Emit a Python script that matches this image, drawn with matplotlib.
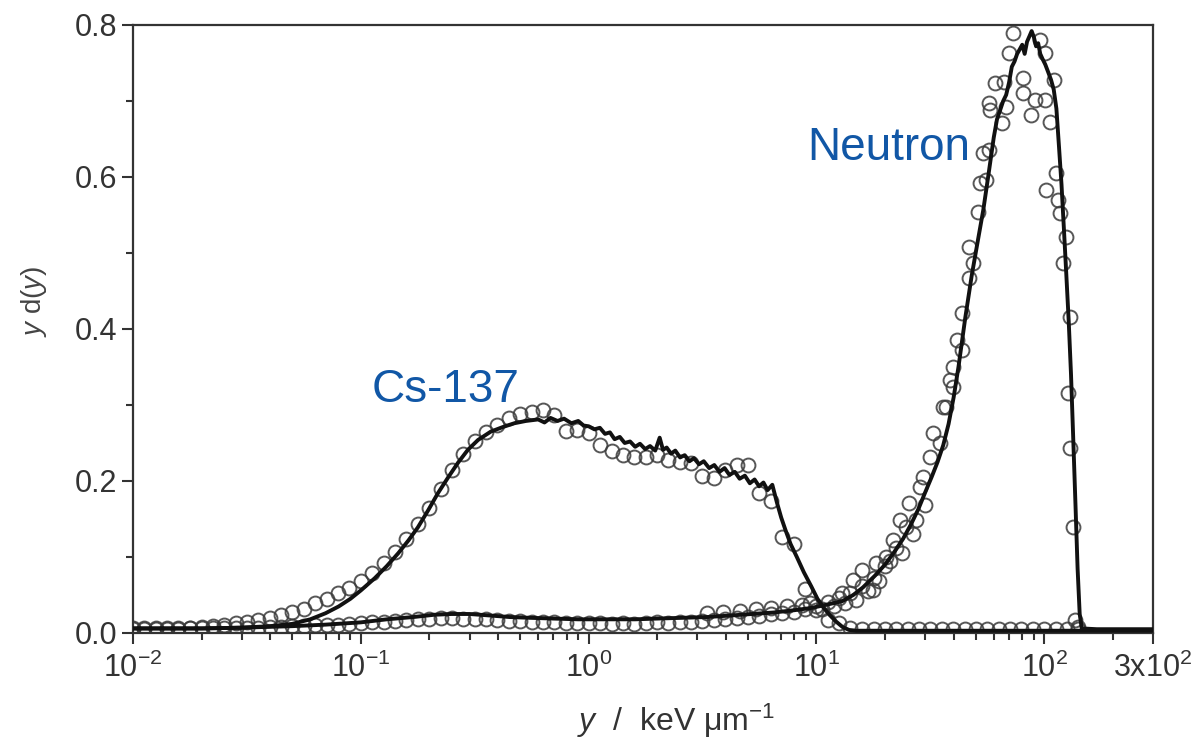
import matplotlib
matplotlib.use("Agg")
import matplotlib.pyplot as plt
import matplotlib.ticker as mticker

plt.rcParams["font.family"] = ["Liberation Sans", "DejaVu Sans"]
plt.rcParams["mathtext.fontset"] = "custom"
plt.rcParams["mathtext.rm"] = "Liberation Sans"
plt.rcParams["mathtext.it"] = "Liberation Sans:italic"
plt.rcParams["mathtext.default"] = "regular"

# ── Data ─────────────────────────────────────────────────────────────────────
# Cs-137: measured spectrum (solid line)
cs_line_x = [0.01, 0.02, 0.03, 0.04, 0.05, 0.06, 0.07, 0.08, 0.09, 0.10,
             0.115, 0.13, 0.146, 0.162, 0.178, 0.198, 0.218, 0.242, 0.267, 0.295,
             0.327, 0.372, 0.42, 0.472, 0.53, 0.6, 0.64, 0.68, 0.73, 0.78,
             0.84, 0.9, 0.95, 1.0, 1.06, 1.12, 1.18, 1.24, 1.3, 1.37,
             1.44, 1.52, 1.6, 1.68, 1.77, 1.86, 1.96, 2.05, 2.12, 2.2,
             2.3, 2.4, 2.52, 2.64, 2.77, 2.9, 3.05, 3.2, 3.38, 3.56,
             3.75, 3.95, 4.15, 4.38, 4.6, 4.85, 5.1, 5.35, 5.6, 5.85,
             6.1, 6.4, 6.7, 7.0, 7.3, 7.7, 8.2, 8.8, 9.5, 10.1,
             10.7, 11.4, 12.2, 13.0, 13.9, 15.0, 30.0, 100.0, 300.0]
cs_line_y = [0.006, 0.006, 0.007, 0.009, 0.012, 0.018, 0.026, 0.035, 0.045, 0.056,
             0.072, 0.088, 0.105, 0.122, 0.139, 0.162, 0.184, 0.205, 0.224, 0.241,
             0.254, 0.265, 0.271, 0.276, 0.279, 0.281, 0.277, 0.283, 0.279, 0.282,
             0.276, 0.279, 0.273, 0.272, 0.268, 0.270, 0.262, 0.264, 0.255, 0.258,
             0.250, 0.252, 0.245, 0.249, 0.242, 0.246, 0.240, 0.257, 0.241, 0.244,
             0.236, 0.240, 0.231, 0.234, 0.226, 0.230, 0.222, 0.226, 0.217, 0.221,
             0.212, 0.217, 0.208, 0.212, 0.203, 0.207, 0.197, 0.202, 0.193, 0.198,
             0.188, 0.195, 0.172, 0.152, 0.136, 0.117, 0.100, 0.080, 0.061, 0.045,
             0.034, 0.024, 0.015, 0.008, 0.004, 0.003, 0.003, 0.003, 0.003]

# Cs-137: calculated spectrum (open circles)
cs_pts_x = [0.0100, 0.0112, 0.0126, 0.0141, 0.0158, 0.0178, 0.0200, 0.0224, 0.0251, 0.0282,
            0.0316, 0.0355, 0.0398, 0.0447, 0.0501, 0.0562, 0.0631, 0.0708, 0.0794, 0.0891,
            0.100, 0.112, 0.126, 0.141, 0.158, 0.178, 0.200, 0.224, 0.251, 0.282,
            0.316, 0.355, 0.398, 0.447, 0.501, 0.562, 0.631, 0.708, 0.794, 0.891,
            1.00, 1.12, 1.26, 1.41, 1.58, 1.78, 2.00, 2.24, 2.51, 2.82,
            3.16, 3.55, 3.98, 4.47, 5.01, 5.62, 6.31, 7.08, 7.94, 8.91,
            10.0, 11.2, 12.6, 14.1, 15.8, 17.8, 20.0, 22.4, 25.1, 28.2,
            31.6, 35.5, 39.8, 44.7, 50.1, 56.2, 63.1, 70.8, 79.4, 89.1,
            100.0, 112.0, 126.0, 141.0]
cs_pts_y = [0.006, 0.006, 0.006, 0.006, 0.006, 0.007, 0.008, 0.009, 0.011, 0.013,
            0.015, 0.017, 0.020, 0.024, 0.028, 0.032, 0.039, 0.045, 0.052, 0.059,
            0.068, 0.079, 0.092, 0.107, 0.124, 0.143, 0.165, 0.190, 0.215, 0.236,
            0.252, 0.265, 0.274, 0.283, 0.288, 0.291, 0.293, 0.287, 0.266, 0.267,
            0.263, 0.247, 0.240, 0.234, 0.232, 0.232, 0.234, 0.228, 0.225, 0.224,
            0.206, 0.204, 0.214, 0.221, 0.221, 0.184, 0.174, 0.126, 0.117, 0.058,
            0.030, 0.017, 0.013, 0.006, 0.005, 0.005, 0.005, 0.005, 0.005, 0.005,
            0.005, 0.005, 0.005, 0.005, 0.005, 0.005, 0.005, 0.005, 0.005, 0.005,
            0.005, 0.005, 0.005, 0.005]

# Neutron: measured spectrum (solid line)
nt_line_x = [0.01, 0.02, 0.03, 0.05, 0.07, 0.1, 0.13, 0.17, 0.21, 0.25,
             0.3, 0.37, 0.45, 0.55, 0.7, 0.9, 1.2, 1.6, 2.0, 2.6,
             3.3, 4.2, 5.2, 6.5, 8.0, 9.5, 11.0, 13.0, 14.5, 16.0,
             18.0, 20.0, 22.0, 24.0, 26.0, 28.0, 30.0, 32.0, 34.0, 36.0,
             38.0, 40.0, 42.0, 45.0, 48.0, 51.0, 54.0, 57.0, 60.0, 62.0,
             64.0, 66.0, 68.0, 70.0, 72.0, 74.0, 76.0, 78.0, 80.0, 82.0,
             84.0, 86.0, 88.0, 90.0, 92.0, 94.0, 96.0, 98.0, 101.0, 104.0,
             107.0, 110.0, 113.0, 116.0, 119.0, 122.0, 125.0, 128.0, 131.0, 134.0,
             137.0, 140.0, 143.0, 146.0, 170.0, 220.0, 300.0]
nt_line_y = [0.006, 0.006, 0.007, 0.009, 0.011, 0.014, 0.018, 0.021, 0.024, 0.025,
             0.025, 0.023, 0.021, 0.020, 0.019, 0.018, 0.018, 0.018, 0.019, 0.020,
             0.021, 0.023, 0.025, 0.027, 0.030, 0.033, 0.037, 0.042, 0.050, 0.060,
             0.075, 0.090, 0.107, 0.124, 0.143, 0.163, 0.185, 0.205, 0.225, 0.247,
             0.275, 0.310, 0.350, 0.415, 0.470, 0.515, 0.557, 0.605, 0.652, 0.676,
             0.688, 0.700, 0.708, 0.724, 0.745, 0.752, 0.762, 0.768, 0.774, 0.762,
             0.778, 0.785, 0.792, 0.784, 0.772, 0.776, 0.762, 0.756, 0.748, 0.738,
             0.728, 0.715, 0.690, 0.640, 0.590, 0.530, 0.470, 0.410, 0.340, 0.255,
             0.170, 0.085, 0.025, 0.006, 0.005, 0.005, 0.005]

# Neutron: calculated spectrum (open circles)
nt_pts_x = [0.0100, 0.0112, 0.0126, 0.0141, 0.0158, 0.0178, 0.0200, 0.0224, 0.0251, 0.0282,
            0.0316, 0.0355, 0.0398, 0.0447, 0.0501, 0.0562, 0.0631, 0.0708, 0.0794, 0.0891,
            0.100, 0.112, 0.126, 0.141, 0.158, 0.178, 0.200, 0.224, 0.251, 0.282,
            0.316, 0.355, 0.398, 0.447, 0.501, 0.562, 0.631, 0.708, 0.794, 0.891,
            1.00, 1.12, 1.26, 1.41, 1.58, 1.78, 2.00, 2.24, 2.51, 2.82,
            3.16, 3.55, 3.98, 4.47, 5.01, 5.62, 6.31, 7.08, 7.94, 8.91,
            3.3, 3.9, 4.6, 5.4, 6.3, 7.4, 8.6, 9.4,
            10.0, 10.6, 11.2, 11.9, 12.6, 13.0, 13.3, 14.1, 14.4, 14.9,
            15.8, 15.9, 16.8, 17.7, 17.8, 18.2, 18.8, 19.9, 20.1, 21.1,
            21.6, 22.4, 23.2, 23.7, 24.7, 25.6, 26.6, 27.4, 28.4, 29.3,
            29.8, 31.4, 32.4, 34.9, 35.9, 37.0, 38.5, 39.7, 39.7, 41.5,
            43.5, 43.5, 46.5, 46.5, 48.5, 51.0, 52.0, 54.0, 55.6, 57.0,
            57.0, 58.0, 61.0, 65.0, 66.5, 68.0, 70.0, 73.0, 81.0, 81.0,
            87.0, 91.0, 95.5, 101.0, 101.0, 102.0, 106.0, 110.0, 113.0, 115.0,
            117.0, 121.0, 124.0, 127.0, 130.0, 130.0, 134.0, 136.0, 140.0]
nt_pts_y = [0.005, 0.005, 0.005, 0.005, 0.005, 0.006, 0.006, 0.006, 0.006, 0.007,
            0.007, 0.007, 0.008, 0.008, 0.009, 0.009, 0.010, 0.010, 0.011, 0.012,
            0.013, 0.014, 0.015, 0.016, 0.017, 0.018, 0.019, 0.020, 0.020, 0.019,
            0.019, 0.018, 0.017, 0.016, 0.016, 0.015, 0.014, 0.014, 0.013, 0.013,
            0.013, 0.013, 0.012, 0.013, 0.012, 0.013, 0.014, 0.013, 0.015, 0.014,
            0.016, 0.017, 0.018, 0.020, 0.021, 0.023, 0.025, 0.026, 0.028, 0.031,
            0.026, 0.027, 0.029, 0.031, 0.033, 0.035, 0.037, 0.040,
            0.036, 0.031, 0.041, 0.035, 0.046, 0.053, 0.040, 0.053, 0.070, 0.043,
            0.062, 0.083, 0.055, 0.057, 0.072, 0.092, 0.068, 0.088, 0.100, 0.095,
            0.122, 0.112, 0.149, 0.105, 0.139, 0.171, 0.130, 0.149, 0.192, 0.205,
            0.168, 0.232, 0.263, 0.250, 0.297, 0.297, 0.333, 0.350, 0.324, 0.386,
            0.372, 0.421, 0.467, 0.508, 0.487, 0.554, 0.592, 0.632, 0.596, 0.636,
            0.697, 0.688, 0.724, 0.671, 0.725, 0.692, 0.763, 0.789, 0.730, 0.710,
            0.682, 0.701, 0.780, 0.763, 0.701, 0.583, 0.672, 0.728, 0.605, 0.570,
            0.553, 0.487, 0.521, 0.316, 0.416, 0.243, 0.139, 0.017, 0.008]

x_ticks = [0.01, 0.1, 1, 10, 100, 300]
x_tick_labels = ["$10^{-2}$", "$10^{-1}$", "$10^{0}$", "$10^{1}$", "$10^{2}$", "3x$10^{2}$"]
y_ticks = [0.0, 0.2, 0.4, 0.6, 0.8]

# ── Style ────────────────────────────────────────────────────────────────────
INK = "#111111"
CIRCLE = "#3a3a3a"
LABEL_BLUE = "#1157a6"
TICK_FS = 22

fig = plt.figure(figsize=(11.94, 7.4), dpi=100)
ax = fig.add_axes([133 / 1194, 107 / 740, 1020 / 1194, 608 / 740])

pt_kw = dict(ls="none", marker="o", ms=10, mfc="none", mec=CIRCLE,
             mew=1.4, alpha=0.85, zorder=2)
ax.plot(cs_pts_x, cs_pts_y, **pt_kw)
ax.plot(nt_pts_x, nt_pts_y, **pt_kw)
ax.plot(cs_line_x, cs_line_y, color=INK, lw=2.8, zorder=3)
ax.plot(nt_line_x, nt_line_y, color=INK, lw=2.8, zorder=3)

ax.set_xscale("log")
ax.set_xlim(0.01, 300)
ax.set_ylim(0, 0.8)

ax.set_xticks(x_ticks)
ax.set_xticklabels(x_tick_labels)
ax.xaxis.set_minor_locator(mticker.LogLocator(base=10, subs=range(2, 10), numticks=20))
ax.xaxis.set_minor_formatter(mticker.NullFormatter())
ax.set_yticks(y_ticks)
ax.set_yticklabels([f"{v:.1f}" for v in y_ticks])
ax.yaxis.set_minor_locator(mticker.MultipleLocator(0.1))

ax.tick_params(which="both", direction="out", top=False, right=False,
               colors="#333333", width=1.5)
ax.tick_params(which="major", length=8, labelsize=TICK_FS, labelcolor="#333333")
ax.tick_params(which="minor", length=5)
ax.tick_params(axis="x", which="major", pad=6)
for sp in ax.spines.values():
    sp.set_linewidth(1.6)
    sp.set_color("#333333")

ax.set_ylabel(r"$\it{y}$ d($\it{y}$)", fontsize=20, color="#444444")
ax.yaxis.set_label_coords(-0.082, 0.546)
fig.text(0.566, 0.026, r"$\it{y}$  /  keV μm$^{-1}$", fontsize=23,
         color="#333333", ha="center", va="center")

ax.text(0.111, 0.304, "Cs-137", fontsize=33, color=LABEL_BLUE, ha="left", va="baseline")
ax.text(9.12, 0.622, "Neutron", fontsize=33, color=LABEL_BLUE, ha="left", va="baseline")

fig.savefig("out.png", dpi=100)
